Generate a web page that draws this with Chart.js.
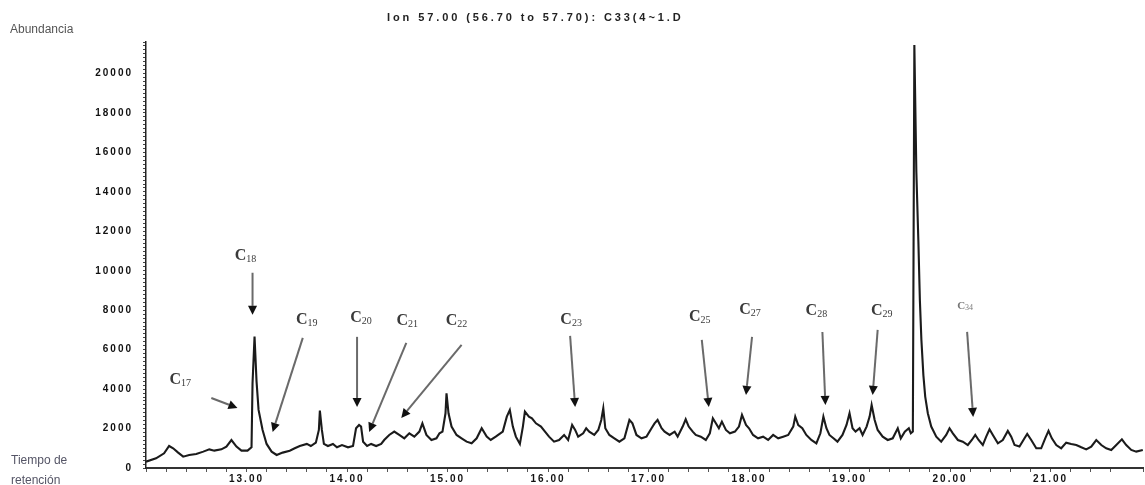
<!DOCTYPE html>
<html>
<head>
<meta charset="utf-8">
<script src="https://cdn.jsdelivr.net/npm/chart.js@4.4.0/dist/chart.umd.min.js"></script>
<style>
    body { margin: 0; background: #fff; }
    #wrap { position: relative; width: 1145px; height: 485px; overflow: hidden; }
    .lbl { position: absolute; font-family: "Liberation Sans", Arial, sans-serif; white-space: nowrap; }
</style>
</head>
<body>
<div id="wrap">
    <canvas id="chart"></canvas>
    <div class="lbl" style="left:10px; top:22px; font-size:12px; color:#555;">Abundancia</div>
    <div class="lbl" style="left:387px; top:11px; font-size:11px; font-weight:bold; color:#222; letter-spacing:2.9px;">Ion 57.00 (56.70 to 57.70): C33(4~1.D</div>
    <div class="lbl" style="left:11px; top:453px; font-size:12px; color:#556;">Tiempo de</div>
    <div class="lbl" style="left:11px; top:473px; font-size:12px; color:#556;">retención</div>
</div>
<script>
// Data: retention time (min) and abundance
const retentionTime = [
    12.00, 12.10, 12.18, 12.23, 12.27, 12.32, 12.37, 12.43, 12.50, 12.57, 12.63, 12.68, 12.75, 12.80, 12.85, 12.90, 12.95,
    13.01, 13.05, 13.06, 13.08, 13.10, 13.12, 13.16, 13.20, 13.25, 13.30, 13.36, 13.43, 13.48, 13.53, 13.60, 13.64, 13.69,
    13.72, 13.73, 13.75, 13.77, 13.81, 13.86, 13.90, 13.95, 14.01, 14.06, 14.09, 14.12, 14.14, 14.16, 14.20, 14.24, 14.29,
    14.34, 14.37, 14.42, 14.47, 14.52, 14.57, 14.62, 14.67, 14.72, 14.75, 14.79, 14.84, 14.89, 14.92, 14.95, 14.98, 14.99,
    15.01, 15.04, 15.09, 15.14, 15.19, 15.24, 15.29, 15.34, 15.39, 15.43, 15.48, 15.55, 15.59, 15.62, 15.65, 15.68, 15.72,
    15.75, 15.77, 15.81, 15.84, 15.88, 15.93, 15.97, 16.01, 16.06, 16.11, 16.16, 16.20, 16.24, 16.27, 16.30, 16.35, 16.38,
    16.41, 16.46, 16.50, 16.53, 16.55, 16.57, 16.61, 16.66, 16.71, 16.76, 16.81, 16.84, 16.88, 16.93, 16.98, 17.03, 17.06,
    17.09, 17.13, 17.16, 17.21, 17.26, 17.29, 17.34, 17.37, 17.40, 17.44, 17.47, 17.52, 17.57, 17.61, 17.64, 17.67, 17.70,
    17.73, 17.77, 17.81, 17.86, 17.90, 17.93, 17.97, 18.00, 18.04, 18.09, 18.14, 18.19, 18.24, 18.29, 18.34, 18.39, 18.44,
    18.46, 18.49, 18.53, 18.57, 18.62, 18.67, 18.71, 18.74, 18.77, 18.80, 18.84, 18.88, 18.93, 18.97, 19.00, 19.03, 19.06,
    19.10, 19.13, 19.17, 19.20, 19.22, 19.25, 19.28, 19.33, 19.38, 19.43, 19.48, 19.51, 19.55, 19.59, 19.61, 19.63, 19.645,
    19.665, 19.685, 19.70, 19.715, 19.735, 19.753, 19.779, 19.813, 19.863, 19.912, 19.962, 19.995, 20.028, 20.078, 20.127,
    20.177, 20.217, 20.251, 20.284, 20.326, 20.360, 20.393, 20.426, 20.476, 20.525, 20.575, 20.609, 20.642, 20.691, 20.741,
    20.768, 20.808, 20.858, 20.907, 20.947, 20.980, 21.013, 21.057, 21.106, 21.156, 21.206, 21.256, 21.306, 21.355, 21.405,
    21.455, 21.505, 21.554, 21.604, 21.654, 21.710, 21.753, 21.803, 21.853, 21.918
];
const abundance = [
    320, 490, 745, 1115, 1000, 780, 575, 660, 710, 830, 945, 880, 945, 1085, 1420, 1085, 880,
    880, 1050, 4300, 6665, 4380, 2945, 1930, 1220, 830, 660, 780, 880, 1000, 1115, 1220, 1115, 1285,
    1930, 2910, 1930, 1220, 1115, 1220, 1050, 1165, 1050, 1115, 2015, 2180, 2100, 1335, 1115, 1220, 1115,
    1220, 1420, 1675, 1845, 1675, 1505, 1760, 1590, 1845, 2265, 1675, 1420, 1505, 1760, 1845, 2775, 3790,
    2775, 2100, 1675, 1505, 1335, 1250, 1505, 2015, 1590, 1420, 1590, 1845, 2605, 2945, 2100, 1590, 1220,
    2100, 2860, 2605, 2520, 2265, 2100, 1845, 1590, 1335, 1420, 1675, 1420, 2180, 1930, 1590, 1760, 2015,
    1845, 1675, 1930, 2435, 3030, 2015, 1675, 1505, 1335, 1505, 2435, 2265, 1675, 1505, 1590, 2015, 2265,
    2435, 2015, 1845, 1675, 1845, 1590, 2100, 2470, 2100, 1845, 1675, 1590, 1420, 1760, 2520, 2265, 2015,
    2350, 1930, 1760, 1845, 2100, 2690, 2180, 2015, 1675, 1505, 1590, 1420, 1675, 1505, 1590, 1675, 2100,
    2605, 2180, 2015, 1675, 1420, 1250, 1760, 2605, 2015, 1675, 1505, 1335, 1675, 2180, 2775, 2015, 1845,
    2015, 1675, 2100, 2605, 3195, 2435, 1930, 1590, 1420, 1505, 2015, 1505, 1845, 2015, 1760, 1845, 21450,
    15000, 11500, 8500, 6500, 4700, 3620, 2775, 2100, 1590, 1335, 1675, 2015, 1760, 1420, 1335,
    1165, 1420, 1675, 1420, 1165, 1590, 1965, 1675, 1250, 1420, 1880, 1590, 1165, 1085, 1505,
    1725, 1420, 1000, 1000, 1505, 1880, 1505, 1165, 1000, 1285, 1220, 1165, 1050, 945, 1085,
    1420, 1165, 1000, 915, 1165, 1455, 1165, 915, 830, 915
];

// Axes
const timeMin = 12.0;
const timeMax = 21.92;
const abundanceMax = 21600;

// Peak annotations (n-alkane labels and arrows, in data units)
const peakNames = ['17', '18', '19', '20', '21', '22', '23', '25', '27', '28', '29', '34'];
const labelTime = [12.34, 12.99, 13.60, 14.14, 14.60, 15.09, 16.23, 17.51, 18.01, 18.67, 19.32, 20.15];
const labelAbund = [4570, 10860, 7610, 7715, 7560, 7560, 7610, 7765, 8120, 8070, 8070, 8270];
const arrowFromTime = [12.65, 13.06, 13.56, 14.10, 14.59, 15.14, 16.22, 17.53, 18.03, 18.73, 19.28, 20.17];
const arrowFromAbund = [3550, 9900, 6600, 6650, 6345, 6240, 6700, 6500, 6650, 6900, 7000, 6900];
const arrowToTime = [12.91, 13.06, 13.26, 14.10, 14.22, 14.54, 16.27, 17.60, 17.97, 18.76, 19.23, 20.23];
const arrowToAbund = [3045, 7765, 1830, 3095, 1830, 2540, 3095, 3095, 3705, 3200, 3705, 2590];

// Plugins
const tickSpacing = {
    id: 'tickSpacing',
    beforeDraw(chart) {
        chart.ctx.letterSpacing = '2px';
    }
};

const peakMarks = {
    id: 'peakMarks',
    afterDraw(chart) {
        const {ctx, scales: {x, y}} = chart;
        ctx.save();
        ctx.letterSpacing = '0px';
        peakNames.forEach((name, i) => {
            const x0 = x.getPixelForValue(arrowFromTime[i]);
            const y0 = y.getPixelForValue(arrowFromAbund[i]);
            const x1 = x.getPixelForValue(arrowToTime[i]);
            const y1 = y.getPixelForValue(arrowToAbund[i]);
            const ang = Math.atan2(y1 - y0, x1 - x0);
            const head = 9, half = 4.5;
            const bx = x1 - Math.cos(ang) * head;
            const by = y1 - Math.sin(ang) * head;

            ctx.strokeStyle = '#6a6a6a';
            ctx.lineWidth = 2;
            ctx.beginPath();
            ctx.moveTo(x0, y0);
            ctx.lineTo(bx, by);
            ctx.stroke();

            ctx.fillStyle = '#111';
            ctx.beginPath();
            ctx.moveTo(x1, y1);
            ctx.lineTo(bx - Math.sin(ang) * half, by + Math.cos(ang) * half);
            ctx.lineTo(bx + Math.sin(ang) * half, by - Math.cos(ang) * half);
            ctx.closePath();
            ctx.fill();

            // label "C" + subscript
            const small = name === '34';
            const bigFont = (small ? 'bold 11px' : 'bold 16px') + ' "Liberation Serif", "Times New Roman", serif';
            const subFont = (small ? '8px' : '10px') + ' "Liberation Serif", "Times New Roman", serif';
            const lx = x.getPixelForValue(labelTime[i]);
            const ly = y.getPixelForValue(labelAbund[i]);
            ctx.font = bigFont;
            const wC = ctx.measureText('C').width;
            ctx.font = subFont;
            const wS = ctx.measureText(name).width;
            const sx = lx - (wC + wS) / 2;
            ctx.textBaseline = 'alphabetic';
            ctx.textAlign = 'left';
            ctx.fillStyle = small ? '#777' : '#3a3a3a';
            ctx.font = bigFont;
            ctx.fillText('C', sx, ly + (small ? 4 : 6));
            ctx.font = subFont;
            ctx.fillText(name, sx + wC, ly + (small ? 5 : 8));
        });
        ctx.restore();
    }
};

// Chart
const points = retentionTime.map((t, i) => ({x: t, y: abundance[i]}));

new Chart(document.querySelector('#chart'), {
    type: 'line',
    data: {
        datasets: [{
            data: points,
            borderColor: '#1b1b1b',
            borderWidth: 2.1,
            pointRadius: 0,
            tension: 0,
            fill: false
        }]
    },
    options: {
        responsive: true,
        maintainAspectRatio: false,
        animation: false,
        layout: {padding: {left: 0, right: 2, top: 42, bottom: 0}},
        plugins: {
            legend: {display: false},
            tooltip: {enabled: false}
        },
        scales: {
            x: {
                type: 'linear',
                min: timeMin,
                max: timeMax,
                afterFit: (scale) => { scale.height = 17; },
                border: {color: '#333', width: 2},
                grid: {drawOnChartArea: false, tickLength: 4, color: '#555'},
                ticks: {
                    stepSize: 0.2,
                    autoSkip: false,
                    maxRotation: 0,
                    padding: 1,
                    color: '#111',
                    font: {family: 'Liberation Sans', size: 10, weight: 'bold'},
                    callback: (v) => {
                        const r = Math.round(v);
                        return (Math.abs(v - r) < 1e-6 && r > 12) ? r.toFixed(2) : '';
                    }
                }
            },
            y: {
                min: 0,
                max: abundanceMax,
                afterFit: (scale) => { scale.width = 146; },
                border: {color: '#222', width: 1.5},
                grid: {drawOnChartArea: false, tickLength: 3, color: '#444'},
                ticks: {
                    stepSize: 200,
                    autoSkip: false,
                    padding: 10,
                    color: '#111',
                    font: {family: 'Liberation Sans', size: 10, weight: 'bold'},
                    callback: (v) => (v % 2000 === 0 ? v : '')
                }
            }
        }
    },
    plugins: [tickSpacing, peakMarks]
});
</script>
</body>
</html>
